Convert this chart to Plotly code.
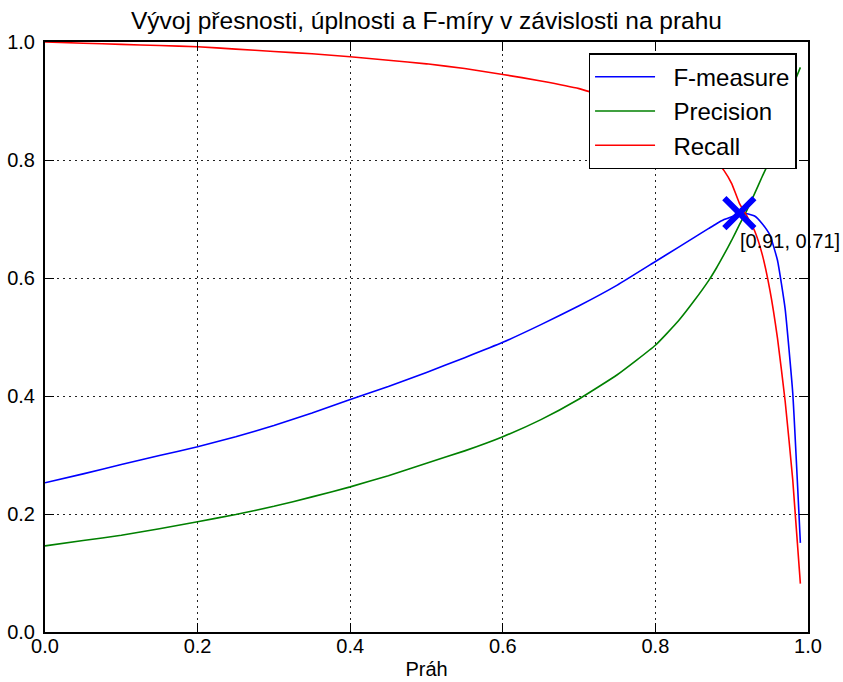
import plotly.graph_objects as go

# Thresholds (x) and series values
thr = [0.00, 0.05, 0.10, 0.15, 0.20, 0.25, 0.30, 0.35, 0.40, 0.45, 0.50, 0.55, 0.60,
       0.65, 0.70, 0.75, 0.80, 0.83, 0.85, 0.87, 0.88, 0.89, 0.90, 0.91, 0.92, 0.93,
       0.94, 0.95, 0.96, 0.97, 0.98, 0.99]

f_measure = [0.253, 0.268, 0.284, 0.299, 0.314, 0.331, 0.350, 0.371, 0.394, 0.416, 0.440, 0.465, 0.491,
             0.521, 0.553, 0.588, 0.628, 0.652, 0.668, 0.684, 0.692, 0.699, 0.704, 0.708, 0.709, 0.705,
             0.692, 0.673, 0.630, 0.548, 0.405, 0.151]

precision = [0.146, 0.155, 0.164, 0.175, 0.187, 0.199, 0.213, 0.229, 0.246, 0.265, 0.286, 0.307, 0.331,
             0.360, 0.395, 0.436, 0.486, 0.527, 0.560, 0.596, 0.617, 0.640, 0.664, 0.690, 0.715, 0.743,
             0.772, 0.800, 0.850, 0.890, 0.925, 0.957]

recall = [1.000, 0.998, 0.996, 0.994, 0.992, 0.988, 0.984, 0.980, 0.975, 0.969, 0.963, 0.955, 0.945,
          0.934, 0.921, 0.901, 0.875, 0.853, 0.835, 0.813, 0.798, 0.782, 0.760, 0.727, 0.705, 0.680,
          0.640, 0.580, 0.498, 0.392, 0.258, 0.082]

best_point = (0.91, 0.71)
best_label = "[0.91, 0.71]"

title_text = "Vývoj přesnosti, úplnosti a F-míry v závislosti na prahu"
x_title = "Práh"
tick_vals = [0.0, 0.2, 0.4, 0.6, 0.8, 1.0]

FONT = "Liberation Sans, Arial, Helvetica, sans-serif"
PAD = "\u00a0\u00a0"

fig = go.Figure()
fig.add_trace(go.Scatter(x=thr, y=f_measure, mode="lines", name=PAD + "F-measure",
                         line=dict(color="#0000ff", width=1.6, shape="spline", smoothing=0.4)))
fig.add_trace(go.Scatter(x=thr, y=precision, mode="lines", name=PAD + "Precision",
                         line=dict(color="#008000", width=1.6, shape="spline", smoothing=0.4)))
fig.add_trace(go.Scatter(x=thr, y=recall, mode="lines", name=PAD + "Recall",
                         line=dict(color="#ff0000", width=1.6, shape="spline", smoothing=0.4)))
fig.add_trace(go.Scatter(x=[best_point[0]], y=[best_point[1]], mode="markers",
                         showlegend=False, cliponaxis=False,
                         marker=dict(symbol="x-thin", size=30, color="#0000ff",
                                     line=dict(color="#0000ff", width=6))))

fig.add_annotation(x=best_point[0], y=best_point[1], xref="x", yref="y",
                   text=best_label, showarrow=False, xanchor="left", yanchor="middle",
                   xshift=-1, yshift=-28, font=dict(family=FONT, size=20, color="black"))

axis_common = dict(range=[0, 1], tickvals=tick_vals, tickformat=".1f", automargin=False,
                   showline=True, linecolor="black", linewidth=2, mirror="allticks",
                   ticks="inside", ticklen=9, tickcolor="black", tickwidth=1,
                   showgrid=True, gridcolor="#222222", griddash="2px,4px", gridwidth=1,
                   zeroline=False, tickfont=dict(family=FONT, size=20, color="black"))

fig.update_xaxes(**axis_common, ticklabelstandoff=-5,
                 title=dict(text=x_title, font=dict(family=FONT, size=20, color="black"),
                            standoff=6))
fig.update_yaxes(**axis_common, ticklabelstandoff=4)

fig.update_layout(
    width=843, height=682,
    margin=dict(l=45, r=35, t=42, b=50),
    paper_bgcolor="white", plot_bgcolor="white",
    title=dict(text=title_text, x=0.5, xref="paper", xanchor="center", y=0.970, yanchor="middle",
               automargin=False,
               font=dict(family=FONT, size=24.5, color="black")),
    legend=dict(x=0.985, y=0.981, xanchor="right", yanchor="top",
                bgcolor="white", bordercolor="black", borderwidth=1.5,
                font=dict(family=FONT, size=24, color="black"),
                itemwidth=60),
    font=dict(family=FONT),
)

fig.write_html("out.html")
